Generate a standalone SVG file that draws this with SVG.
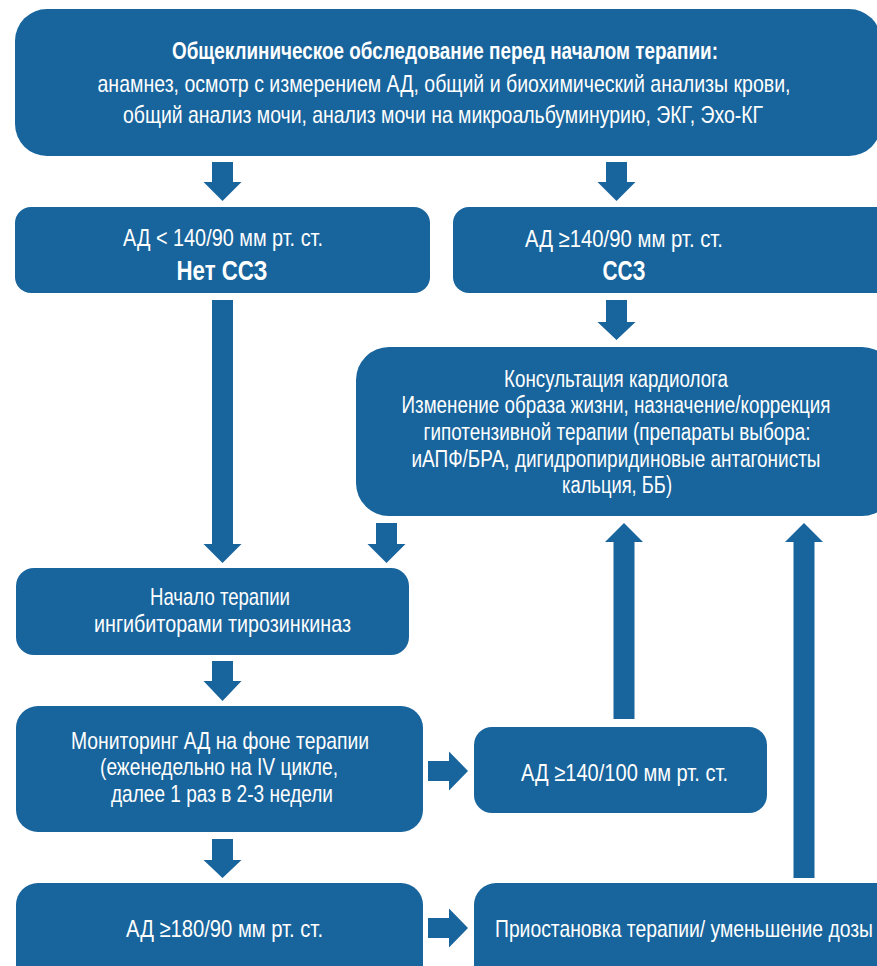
<svg xmlns="http://www.w3.org/2000/svg" width="877" height="966" viewBox="0 0 877 966">
<style>
.box{fill:#18649c}
.arr{fill:#18649c}
text{fill:#ffffff;font-family:"Liberation Sans Narrow","Liberation Sans",Arial,sans-serif;text-anchor:middle}
.r{font-size:24px}
.c{font-size:23px}
.b{font-size:24px;font-weight:bold}
.bb{font-size:27px;font-weight:bold}
</style>
<rect width="877" height="966" fill="#ffffff"/>
<g id="n-exam">
<rect class="box" x="15" y="9" width="866" height="147" rx="32"/>
<text class="b" x="445" y="59" textLength="546" lengthAdjust="spacingAndGlyphs">Общеклиническое обследование перед началом терапии:</text>
<text class="r" x="444" y="92" textLength="693" lengthAdjust="spacingAndGlyphs">анамнез, осмотр с измерением АД, общий и биохимический анализы крови,</text>
<text class="r" x="443" y="123" textLength="640" lengthAdjust="spacingAndGlyphs">общий анализ мочи, анализ мочи на микроальбуминурию, ЭКГ, Эхо-КГ</text>
</g>
<g id="n-nocvd">
<rect class="box" x="15" y="207" width="415" height="86" rx="16"/>
<text class="r" x="223" y="246" textLength="200" lengthAdjust="spacingAndGlyphs">АД &lt; 140/90 мм рт. ст.</text>
<text class="bb" x="222" y="280" textLength="91" lengthAdjust="spacingAndGlyphs">Нет ССЗ</text>
</g>
<g id="n-cvd">
<rect class="box" x="453" y="207" width="440" height="86" rx="16"/>
<text class="r" x="624" y="247" textLength="198" lengthAdjust="spacingAndGlyphs">АД ≥140/90 мм рт. ст.</text>
<text class="bb" x="624" y="280" textLength="43" lengthAdjust="spacingAndGlyphs">ССЗ</text>
</g>
<g id="n-cardio">
<rect class="box" x="356" y="347" width="539" height="169" rx="33"/>
<text class="c" x="616" y="387" textLength="224" lengthAdjust="spacingAndGlyphs">Консультация кардиолога</text>
<text class="c" x="616" y="413" textLength="429" lengthAdjust="spacingAndGlyphs">Изменение образа жизни, назначение/коррекция</text>
<text class="c" x="617" y="440" textLength="387" lengthAdjust="spacingAndGlyphs">гипотензивной терапии (препараты выбора:</text>
<text class="c" x="616" y="467" textLength="409" lengthAdjust="spacingAndGlyphs">иАПФ/БРА, дигидропиридиновые антагонисты</text>
<text class="c" x="617" y="493" textLength="110" lengthAdjust="spacingAndGlyphs">кальция, ББ)</text>
</g>
<g id="n-start">
<rect class="box" x="16" y="568" width="393" height="87" rx="18"/>
<text class="r" x="220" y="605" textLength="140" lengthAdjust="spacingAndGlyphs">Начало терапии</text>
<text class="r" x="222.5" y="632" textLength="257" lengthAdjust="spacingAndGlyphs">ингибиторами тирозинкиназ</text>
</g>
<g id="n-monitor">
<rect class="box" x="16" y="706" width="407" height="126" rx="22"/>
<text class="r" x="220" y="749" textLength="298" lengthAdjust="spacingAndGlyphs">Мониторинг АД на фоне терапии</text>
<text class="r" x="219" y="775" textLength="238" lengthAdjust="spacingAndGlyphs">(еженедельно на IV цикле,</text>
<text class="r" x="222" y="802" textLength="222" lengthAdjust="spacingAndGlyphs">далее 1 раз в 2-3 недели</text>
</g>
<g id="n-bp140">
<rect class="box" x="474" y="727" width="293" height="86" rx="18"/>
<text class="r" x="624.5" y="781" textLength="207" lengthAdjust="spacingAndGlyphs">АД ≥140/100 мм рт. ст.</text>
</g>
<g id="n-bp180">
<rect class="box" x="16" y="883" width="407" height="110" rx="22"/>
<text class="r" x="224.5" y="937" textLength="197" lengthAdjust="spacingAndGlyphs">АД ≥180/90 мм рт. ст.</text>
</g>
<g id="n-stop">
<rect class="box" x="474" y="883" width="430" height="110" rx="22"/>
<text class="r" x="684" y="937" textLength="378" lengthAdjust="spacingAndGlyphs">Приостановка терапии/ уменьшение дозы</text>
</g>
<g id="connectors">
<polygon class="arr" points="212,162 233,162 233,182 241.5,182 222.5,201 203.5,182 212,182"/>
<polygon class="arr" points="606,162 627,162 627,182 635.5,182 616.5,201 597.5,182 606,182"/>
<polygon class="arr" points="606,300 627,300 627,322 635.5,322 616.5,340 597.5,322 606,322"/>
<polygon class="arr" points="212,300 233,300 233,544 241.5,544 222.5,563 203.5,544 212,544"/>
<polygon class="arr" points="376,523 397,523 397,544 405.5,544 386.5,563 367.5,544 376,544"/>
<polygon class="arr" points="212,661 233,661 233,681 241.5,681 222.5,701 203.5,681 212,681"/>
<polygon class="arr" points="212,839 233,839 233,860 241.5,860 222.5,878 203.5,860 212,860"/>
<polygon class="arr" points="613.5,719 634.5,719 634.5,542 643,542 624,523 605,542 613.5,542"/>
<polygon class="arr" points="793.5,878 814.5,878 814.5,542 823,542 804,523 785,542 793.5,542"/>
<polygon class="arr" points="428,761 449,761 449,751.5 468,771 449,790.5 449,781 428,781"/>
<polygon class="arr" points="428,918 449,918 449,908.5 468,928 449,947.5 449,938 428,938"/>
</g>
</svg>
